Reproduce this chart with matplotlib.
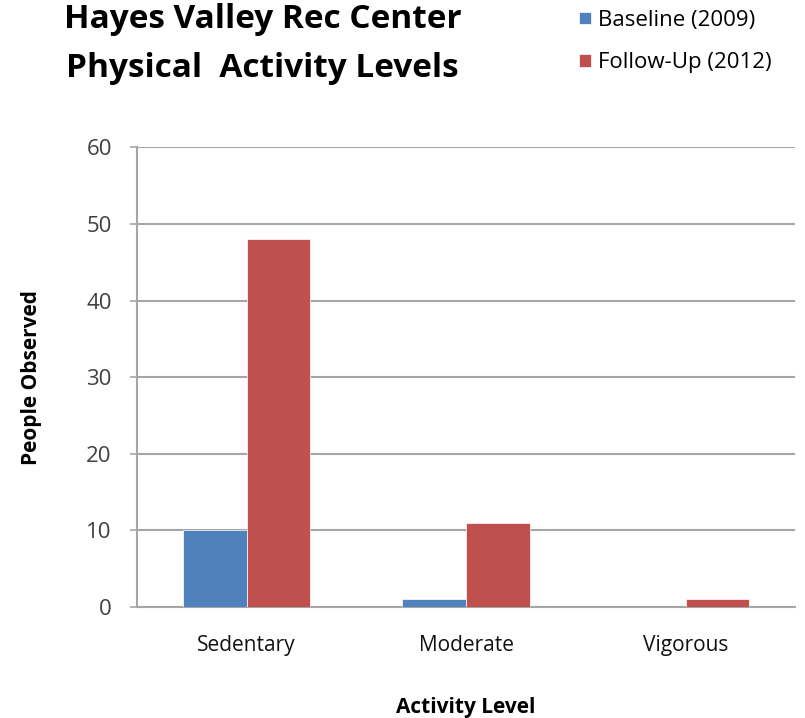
import matplotlib.pyplot as plt
import numpy as np

categories = ['Sedentary', 'Moderate', 'Vigorous']
baseline = [10, 1, 0]
followup = [48, 11, 1]
series_names = ['Baseline (2009)', 'Follow-Up (2012)']
yticks = [0, 10, 20, 30, 40, 50, 60]

blue = '#4F81BD'
red = '#C0504D'
grid_col = '#A6A6A6'
tick_col = '#404040'

plt.rcParams['font.family'] = ['Open Sans', 'DejaVu Sans']

fig = plt.figure(figsize=(8.05, 7.18), dpi=100)
ax = fig.add_axes([0.170, 0.1546, 0.818, 0.640])

x = np.arange(len(categories))
w = 0.29
b1 = ax.bar(x - w / 2, baseline, w, color=blue, edgecolor='white', linewidth=0.5, zorder=3)
b2 = ax.bar(x + w / 2, followup, w, color=red, edgecolor='white', linewidth=0.5, zorder=3)

ax.set_xlim(-0.5, 2.5)
ax.set_ylim(0, 60)
ax.set_yticks(yticks)
ax.set_xticks(x)
ax.set_xticklabels(categories, fontsize=15, color='#111111')
ax.tick_params(axis='x', length=0, pad=20)
ax.tick_params(axis='y', length=5, width=1.2, color=grid_col, labelsize=16,
               labelcolor=tick_col, pad=13)
ax.yaxis.grid(True, color=grid_col, linewidth=1.5, zorder=0)
for s in ['top', 'right']:
    ax.spines[s].set_visible(False)
ax.spines['left'].set_color(grid_col)
ax.spines['left'].set_linewidth(1.5)
ax.spines['bottom'].set_color(grid_col)
ax.spines['bottom'].set_linewidth(1.5)

ax.set_ylabel('People Observed', fontsize=15, fontweight='bold', labelpad=32)
ax.set_xlabel('Activity Level', fontsize=15, fontweight='bold', labelpad=30)

fig.text(0.326, 0.973, 'Hayes Valley Rec Center', ha='center', va='center',
         fontsize=24, fontweight='bold')
fig.text(0.326, 0.904, 'Physical  Activity Levels', ha='center', va='center',
         fontsize=24, fontweight='bold')

leg = fig.legend([b1, b2], series_names, loc='upper left', bbox_to_anchor=(0.695, 1.014),
                 frameon=False, fontsize=16, handlelength=0.5, handleheight=0.5,
                 handletextpad=0.35, labelspacing=0.95)

fig.savefig('out.png', dpi=100)
